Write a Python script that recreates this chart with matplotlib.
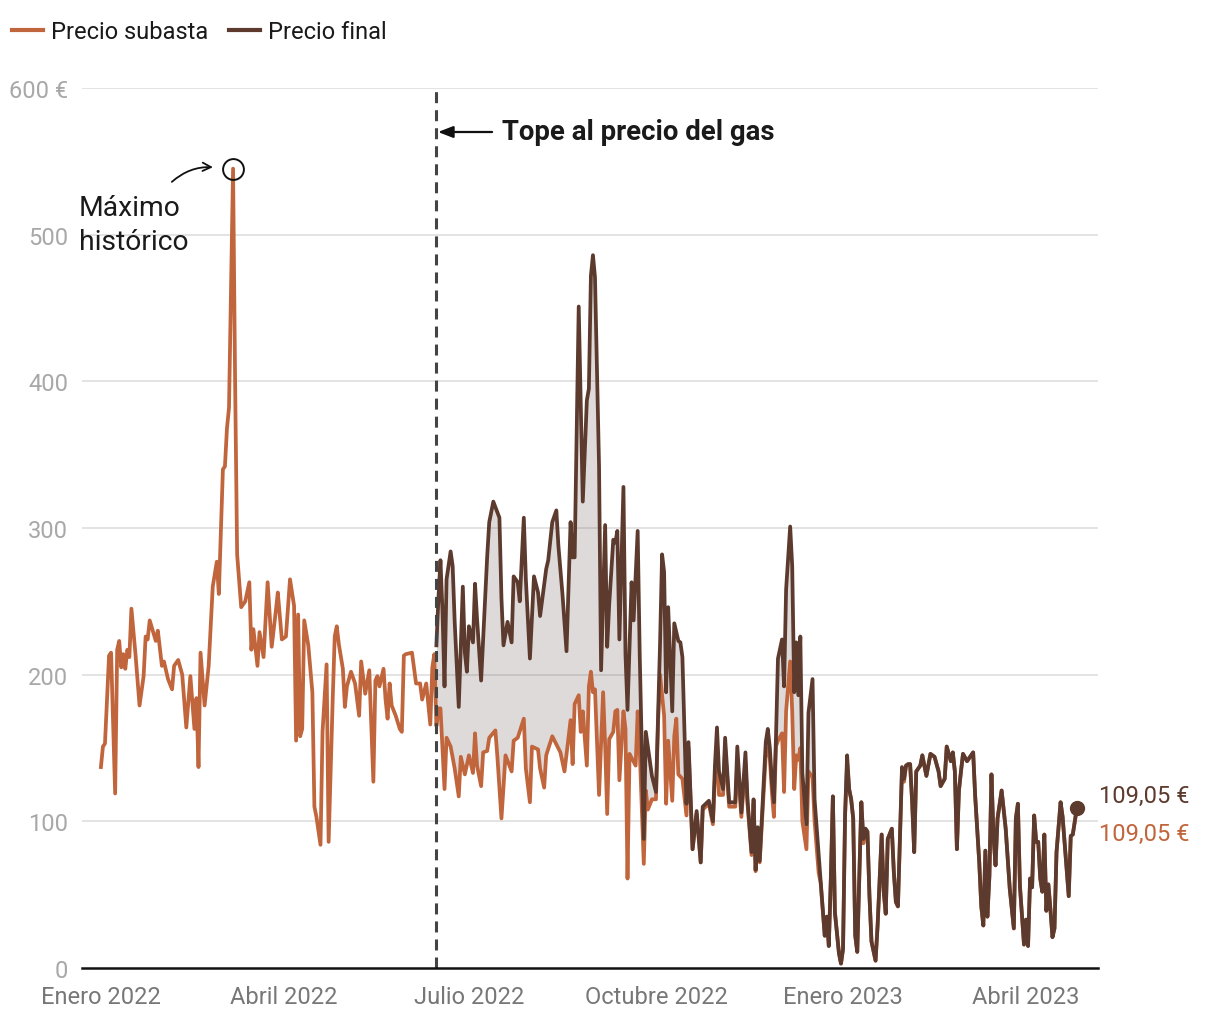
import numpy as np
import matplotlib
matplotlib.use("Agg")
import matplotlib.pyplot as plt
import matplotlib.dates as mdates
from matplotlib.lines import Line2D

plt.rcParams['font.family'] = ['Roboto', 'DejaVu Sans']

# ---------------- data (days since 2022-01-01, €/MWh) ----------------
dias_subasta = [0, 1, 2, 4, 5, 7, 8, 9, 10, 11, 12, 13, 14, 15, 17, 19, 21, 22, 23, 24, 27, 28, 30, 31, 33, 35, 36,
                38, 40, 42, 44, 46, 47, 48, 49, 51, 53, 55, 57, 58, 60, 61, 62, 63, 65, 66, 67, 69, 71, 73, 74, 75,
                77, 78, 80, 82, 84, 86, 87, 89, 91, 93, 95, 96, 97, 98, 99, 100, 102, 104, 105, 106, 108, 109, 111,
                112, 114, 115, 116, 117, 119, 120, 121, 123, 125, 127, 128, 130, 132, 134, 135, 136, 137, 139, 140,
                141, 142, 143, 145, 147, 148, 149, 150, 153, 155, 157, 158, 160, 162, 163, 164, 165,
                166, 167, 169, 170, 172, 174, 176, 177, 179, 181, 183, 184, 185, 187, 188, 190, 191, 194, 195, 197,
                199, 202, 203, 205, 208, 209, 211, 212, 215, 216, 218, 219, 222, 226, 228, 231, 232, 233, 235, 236,
                237, 239, 240, 241, 242, 243, 245, 247, 248, 249, 250, 252, 253, 254, 255, 257, 258, 259, 260, 263,
                264, 265, 267, 268, 269, 271, 273, 274, 275, 277, 278, 279, 281, 282, 283, 284, 286, 288,
                289, 291, 293, 295, 296, 299, 301, 302, 303, 304, 306, 307, 309, 312, 313, 315, 317, 318, 320, 321,
                322, 323, 324, 327, 328, 329, 330, 331, 332, 333, 335, 336, 337, 339, 340, 341, 342, 343, 344, 345,
                347, 348, 350, 351, 353, 354, 356, 357, 358, 359, 360, 361, 363, 364, 365, 366, 367, 368, 369, 370,
                371, 372, 374, 375, 376, 377, 378, 379, 381, 382, 384, 385, 386, 387, 389, 390, 391, 392, 394, 395,
                396, 397, 398, 399, 400, 401, 403, 404, 406, 408, 410, 412, 413, 415, 416, 417, 418, 419, 420, 421,
                422, 423, 424, 426, 429, 430, 432, 433, 434, 435, 436, 437, 438, 439, 440, 441, 443, 445, 446, 447,
                449, 450, 451, 452, 454, 455, 456, 457, 458, 459, 460, 461, 462, 463, 464, 465, 466, 467, 468, 469,
                470, 472, 473, 474, 476, 477, 478, 480]
precio_subasta = [137, 151, 153, 213, 215, 119, 217, 223, 205, 214, 204, 217, 212, 245, 214, 179, 199, 226, 224, 237,
                  223, 230, 206, 209, 197, 190, 206, 210, 200, 164, 199, 163, 184, 137, 215, 179, 206, 260, 277, 255,
                  340, 342, 368, 382, 545, 400, 282, 246, 250, 263, 217, 231, 206, 229, 212, 263, 219, 243, 256, 224,
                  226, 265, 247, 155, 241, 158, 163, 237, 220, 188, 110, 103, 84, 161, 207, 86, 183, 226, 233, 221,
                  204, 178, 192, 202, 194, 172, 209, 187, 203, 127, 196, 199, 192, 204, 183, 170, 194, 179, 172, 163,
                  161, 213, 214, 215, 194, 194, 183, 194, 166, 205, 214, 165,
                  177, 177, 122, 157, 151, 136, 117, 144, 132, 145, 133, 160, 138, 124, 147, 148, 157, 162, 144, 102,
                  145, 134, 155, 157, 170, 136, 113, 151, 149, 136, 123, 145, 158, 147, 134, 169, 139, 180, 186, 161,
                  175, 138, 192, 202, 188, 190, 118, 188, 152, 105, 156, 161, 175, 176, 128, 175, 163, 61, 146, 138,
                  175, 149, 71, 121, 108, 115, 115, 166, 200, 172, 112, 155, 114, 158, 170, 132, 129, 104,
                  150, 81, 105, 72, 108, 112, 98, 130, 152, 118, 118, 150, 110, 110, 140, 103, 140, 112, 77, 112,
                  66, 94, 72, 145, 150, 143, 120, 103, 151, 155, 160, 120, 175, 209, 175, 122, 145, 142, 150, 100,
                  81, 134, 130, 100, 65, 58, 22, 35, 15, 61, 117, 38, 10, 3, 13, 104, 140, 122, 115, 102,
                  22, 11, 113, 85, 95, 93, 49, 18, 5, 29, 91, 52, 37, 88, 95, 65, 45, 42, 135, 127,
                  138, 139, 139, 113, 79, 134, 138, 145, 131, 146, 144, 134, 124, 129, 151, 146, 141, 147, 134, 81,
                  121, 134, 146, 141, 147, 117, 72, 42, 29, 80, 35, 63, 132, 90, 70, 102, 121, 95, 74, 54,
                  27, 102, 112, 56, 16, 33, 15, 61, 55, 104, 86, 86, 61, 52, 91, 39, 57, 40, 21, 27,
                  79, 113, 103, 85, 49, 90, 91, 109.05]

dias_final = [165, 166, 167, 168, 169, 170, 172, 173, 174, 176, 178, 179, 180, 181, 183, 184, 185, 187, 189, 190,
              191, 193, 196, 197, 198, 200, 202, 203, 205, 206, 208, 209, 211, 213, 215, 216, 219, 220, 222, 224,
              225, 227, 229, 231, 232, 233, 235, 237, 239, 240, 241, 242, 243, 245, 246, 248, 249, 250, 252, 253,
              254, 255, 257, 258, 259, 261, 262, 264, 265, 267, 268, 271, 273, 275, 276, 277, 278, 279, 281, 282,
              284, 285, 286, 288, 289, 291, 293, 295, 296, 299, 301, 302, 303, 304, 306, 307, 309, 312, 313, 315,
              317, 318, 320, 321, 322, 323, 324, 327, 328, 329, 330, 331, 332, 333, 335, 336, 337, 339, 340, 341,
              342, 343, 344, 345, 347, 348, 350, 351, 353, 354, 356, 357, 358, 359, 360, 361, 363, 364, 365, 366,
              367, 368, 369, 370, 371, 372, 374, 375, 376, 377, 378, 379, 381, 382, 384, 385, 386, 387, 389, 390,
              391, 392, 394, 395, 396, 397, 398, 399, 400, 401, 403, 404, 406, 408, 410, 412, 413, 415, 416, 417,
              418, 419, 420, 421, 422, 423, 424, 426, 429, 430, 432, 433, 434, 435, 436, 437, 438, 439, 440, 441,
              443, 445, 446, 447, 449, 450, 451, 452, 454, 455, 456, 457, 458, 459, 460, 461, 462, 463, 464, 465,
              466, 467, 468, 469, 470, 472, 473, 474, 476, 477, 478, 480]
precio_final = [220, 252, 278, 243, 192, 265, 284, 274, 236, 178, 260, 215, 202, 233, 222, 262, 238, 196, 252, 281,
                304, 318, 307, 252, 220, 236, 222, 267, 263, 250, 307, 265, 211, 267, 256, 240, 272, 278, 304, 312,
                288, 255, 216, 304, 280, 280, 451, 318, 387, 395, 472, 486, 471, 342, 203, 302, 219, 248, 292, 290,
                298, 224, 328, 214, 176, 263, 237, 298, 214, 88, 161, 131, 120, 221, 282, 270, 188, 246, 175, 235,
                223, 222, 212, 112, 154, 81, 107, 72, 110, 114, 100, 138, 164, 134, 122, 157, 113, 113, 151, 106,
                147, 115, 79, 115, 67, 96, 73, 154, 163, 150, 127, 113, 156, 211, 224, 192, 258, 301, 274, 188,
                222, 186, 226, 133, 98, 174, 197, 115, 77, 59, 22, 35, 15, 61, 117, 38, 10, 3, 13, 104,
                145, 122, 115, 102, 22, 11, 113, 88, 95, 93, 49, 18, 5, 29, 91, 52, 37, 88, 95, 65,
                45, 42, 137, 129, 138, 139, 139, 113, 79, 134, 138, 145, 131, 146, 144, 134, 124, 129, 151, 146,
                141, 147, 134, 81, 121, 134, 146, 141, 147, 117, 72, 42, 29, 80, 35, 63, 132, 90, 70, 102,
                121, 95, 74, 54, 27, 102, 112, 56, 16, 33, 15, 61, 55, 104, 86, 86, 61, 52, 91, 39,
                57, 40, 21, 27, 79, 113, 103, 85, 49, 90, 91, 109.05]

fecha_inicio = '2022-01-01'
dia_tope = 165
meses_ticks = ['2022-01-01', '2022-04-01', '2022-07-01', '2022-10-01', '2023-01-01', '2023-04-01']
etiquetas_meses = ['Enero 2022', 'Abril 2022', 'Julio 2022', 'Octubre 2022', 'Enero 2023', 'Abril 2023']
y_ticks = [0, 100, 200, 300, 400, 500, 600]
y_etiquetas = ['0', '100', '200', '300', '400', '500', '600 €']

# ---------------- styling ----------------
C_SUB = '#c1653c'
C_FIN = '#5d3a2e'
C_GRID = '#e3e3e3'
FS = 17

base = mdates.date2num(np.datetime64(fecha_inicio))
xs = base + np.array(dias_subasta, dtype=float)
xf = base + np.array(dias_final, dtype=float)

fig = plt.figure(figsize=(12.2, 10.2), dpi=100)
ax = fig.add_axes([82 / 1220, 51 / 1020, 1016 / 1220, 880 / 1020])

ax.set_xlim(base - 9.3, base + 490.4)
ax.set_ylim(0, 600)

# grid
for v in y_ticks[1:]:
    ax.axhline(v, color=C_GRID, lw=1.4, zorder=0)

# fill between final and subasta
grid = np.union1d(np.array(dias_final, float), np.array(dias_subasta, float))
grid = grid[(grid >= dias_final[0]) & (grid <= dias_final[-1])]
fi = np.interp(grid, dias_final, precio_final)
si = np.interp(grid, dias_subasta, precio_subasta)
ax.fill_between(base + grid, si, fi, where=fi >= si, interpolate=True,
                color='#6a5a52', alpha=0.22, lw=0, zorder=1)

ax.plot(xs, precio_subasta, color=C_SUB, lw=2.7, zorder=3, solid_joinstyle='round')
ax.plot(xf, precio_final, color=C_FIN, lw=2.7, zorder=4, solid_joinstyle='round')
ax.plot([xf[-1]], [precio_final[-1]], 'o', color=C_FIN, ms=10, zorder=5)

# cap line
xt = base + dia_tope
ax.plot([xt, xt], [0, 600], color='#444444', lw=2.2, ls=(0, (3.6, 2.3)), zorder=6, clip_on=False)
ax.annotate('', xy=(xt + 0.8, 570), xytext=(base + 192.4, 570),
            arrowprops=dict(arrowstyle='-|>,head_length=0.9,head_width=0.35', color='#111111', lw=1.6,
                            shrinkA=0, shrinkB=0), zorder=7)
ax.text(base + 197.2, 570, 'Tope al precio del gas', fontsize=19.8, fontweight='bold',
        color='#1a1a1a', ha='left', va='center')

# maximum annotation
i_max = int(np.argmax(precio_subasta))
ax.plot([xs[i_max]], [precio_subasta[i_max]], 'o', mfc='none', mec='#111111', ms=15, mew=1.4, zorder=7)
ax.annotate('', xy=(base + 55.1, 546), xytext=(base + 34.9, 536),
            arrowprops=dict(arrowstyle='->,head_length=0.6,head_width=0.3', color='#111111', lw=1.3,
                            connectionstyle='arc3,rad=-0.2', shrinkA=0, shrinkB=0),
            annotation_clip=False)
ax.text(base - 10.8, 507, 'Máximo\nhistórico', fontsize=20.3, color='#1a1a1a', ha='left', va='center',
        linespacing=1.3)

# end labels
ax.text(base + 491, 117.3, '109,05 €', color=C_FIN, fontsize=FS, ha='left', va='center', clip_on=False)
ax.text(base + 491, 92, '109,05 €', color=C_SUB, fontsize=FS, ha='left', va='center', clip_on=False)

# axes
for s in ['top', 'right', 'left']:
    ax.spines[s].set_visible(False)
ax.spines['bottom'].set_color('#111111')
ax.spines['bottom'].set_linewidth(1.8)
ax.spines['bottom'].set_zorder(8)

ax.set_xticks([mdates.date2num(np.datetime64(m)) for m in meses_ticks])
ax.set_xticklabels(etiquetas_meses)
ax.set_yticks(y_ticks)
ax.set_yticklabels(y_etiquetas)
ax.tick_params(axis='x', length=0, pad=12, labelsize=FS, labelcolor='#777777')
ax.tick_params(axis='y', length=0, pad=10, labelsize=FS, labelcolor='#a8a8a8')

# legend
handles = [Line2D([], [], color=C_SUB, lw=3), Line2D([], [], color=C_FIN, lw=3)]
fig.legend(handles, ['Precio subasta', 'Precio final'], loc='upper left',
           bbox_to_anchor=(12 / 1220, 1 - 21 / 1020), ncol=2, frameon=False, fontsize=FS,
           handlelength=1.3, handletextpad=0.35, columnspacing=0.9, borderpad=0, borderaxespad=0,
           labelcolor='#1a1a1a')

fig.savefig('out.png', dpi=100)
